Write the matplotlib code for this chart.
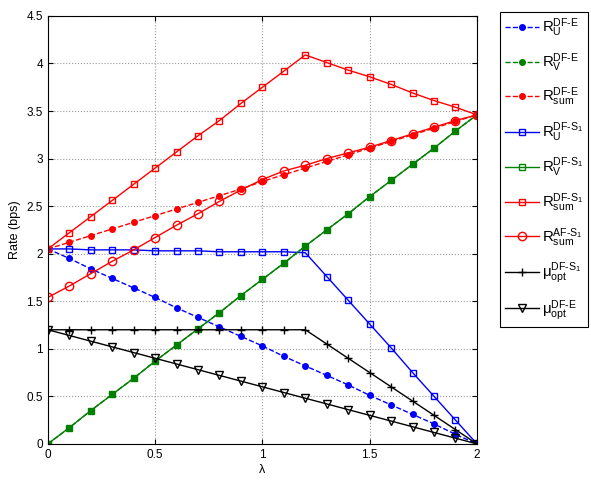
import numpy as np
import matplotlib
matplotlib.use('Agg')
import matplotlib.pyplot as plt

plt.rcParams['font.family'] = ['Liberation Sans', 'DejaVu Sans']
plt.rcParams['mathtext.fontset'] = 'custom'
plt.rcParams['mathtext.rm'] = 'Liberation Sans'
plt.rcParams['mathtext.it'] = 'Liberation Sans'
plt.rcParams['mathtext.default'] = 'regular'

lam = [0.0, 0.1, 0.2, 0.3, 0.4, 0.5, 0.6, 0.7, 0.8, 0.9, 1.0,
       1.1, 1.2, 1.3, 1.4, 1.5, 1.6, 1.7, 1.8, 1.9, 2.0]

# DF-E
ru_dfe = [2.05, 1.95, 1.84, 1.74, 1.64, 1.54, 1.43, 1.33, 1.23, 1.13, 1.03,
          0.92, 0.82, 0.72, 0.62, 0.51, 0.41, 0.31, 0.21, 0.10, 0.0]
rv_dfe = [0.0, 0.17, 0.35, 0.52, 0.69, 0.87, 1.04, 1.21, 1.38, 1.56, 1.73,
          1.90, 2.08, 2.25, 2.42, 2.60, 2.77, 2.94, 3.11, 3.29, 3.46]
rsum_dfe = [2.05, 2.12, 2.19, 2.26, 2.33, 2.40, 2.47, 2.54, 2.61, 2.68, 2.76,
            2.83, 2.90, 2.97, 3.04, 3.11, 3.18, 3.25, 3.32, 3.39, 3.46]

# DF-S1
ru_dfs = [2.05, 2.05, 2.04, 2.04, 2.04, 2.03, 2.03, 2.03, 2.02, 2.02, 2.02,
          2.02, 2.01, 1.76, 1.51, 1.26, 1.01, 0.75, 0.50, 0.25, 0.0]
rv_dfs = rv_dfe
rsum_dfs = [2.05, 2.22, 2.39, 2.56, 2.73, 2.90, 3.07, 3.24, 3.40, 3.58, 3.75,
            3.92, 4.09, 4.01, 3.93, 3.86, 3.78, 3.69, 3.61, 3.54, 3.46]

# AF-S1
rsum_afs = [1.54, 1.66, 1.79, 1.92, 2.04, 2.17, 2.30, 2.42, 2.55, 2.67, 2.78,
            2.87, 2.93, 3.00, 3.06, 3.12, 3.19, 3.26, 3.33, 3.40, 3.46]

mu_dfs = [1.2, 1.2, 1.2, 1.2, 1.2, 1.2, 1.2, 1.2, 1.2, 1.2, 1.2,
          1.2, 1.2, 1.05, 0.90, 0.75, 0.60, 0.45, 0.30, 0.15, 0.0]
mu_dfe = [1.2, 1.14, 1.08, 1.02, 0.96, 0.90, 0.84, 0.78, 0.72, 0.66, 0.60,
          0.54, 0.48, 0.42, 0.36, 0.30, 0.24, 0.18, 0.12, 0.06, 0.0]

blue = (0, 0, 1)
green = (0, 0.5, 0)
red = (1, 0, 0)

fig = plt.figure(figsize=(5.91, 4.83), dpi=100)
ax = fig.add_axes([0.081, 0.081, 0.726, 0.886])

ms = 5
ax.plot(lam, ru_dfe, '--', color=blue, marker='o', ms=4, lw=1,
        label=r'$R_{U}^{\text{DF-E}}$')
ax.plot(lam, rv_dfe, '--', color=green, marker='o', ms=4, lw=1,
        label=r'$R_{V}^{\text{DF-E}}$')
ax.plot(lam, rsum_dfe, '--', color=red, marker='o', ms=4, lw=1,
        label=r'$R_{sum}^{\text{DF-E}}$')
ax.plot(lam, ru_dfs, '-', color=blue, marker='s', ms=ms, mfc='none', lw=1,
        label=r'$R_{U}^{\text{DF-S}_1}$')
ax.plot(lam, rv_dfs, '-', color=green, marker='s', ms=ms, mfc='none', lw=1,
        label=r'$R_{V}^{\text{DF-S}_1}$')
ax.plot(lam, rsum_dfs, '-', color=red, marker='s', ms=ms, mfc='none', lw=1,
        label=r'$R_{sum}^{\text{DF-S}_1}$')
ax.plot(lam, rsum_afs, '-', color=red, marker='o', ms=6, mfc='none', lw=1,
        label=r'$R_{sum}^{\text{AF-S}_1}$')
ax.plot(lam, mu_dfs, '-', color='k', marker='+', ms=6, lw=1,
        label=r'$\mu_{opt}^{\text{DF-S}_1}$')
ax.plot(lam, mu_dfe, '-', color='k', marker='v', ms=6, mfc='none', lw=1,
        label=r'$\mu_{opt}^{\text{DF-E}}$')

ax.set_xlim(0, 2)
ax.set_ylim(0, 4.5)
ax.set_xticks([0, 0.5, 1, 1.5, 2])
ax.set_xticklabels(['0', '0.5', '1', '1.5', '2'])
ax.set_yticks(np.arange(0, 4.51, 0.5))
ax.set_yticklabels(['0', '0.5', '1', '1.5', '2', '2.5', '3', '3.5', '4', '4.5'])
ax.tick_params(direction='in', labelsize=8.5, top=True, right=True)
ax.grid(True, linestyle=':', color='0.6', lw=0.8)
ax.set_xlabel('λ', fontsize=9, labelpad=2)
ax.set_ylabel('Rate (bps)', fontsize=9)

leg = ax.legend(loc='upper left', bbox_to_anchor=(1.054, 1.009), fontsize=10.8,
                handlelength=2.3, labelspacing=0.8, borderaxespad=0,
                fancybox=False, framealpha=1, edgecolor='k', handletextpad=0.2,
                borderpad=0.3)
leg.get_frame().set_linewidth(0.8)

fig.savefig('out.png', dpi=100)
